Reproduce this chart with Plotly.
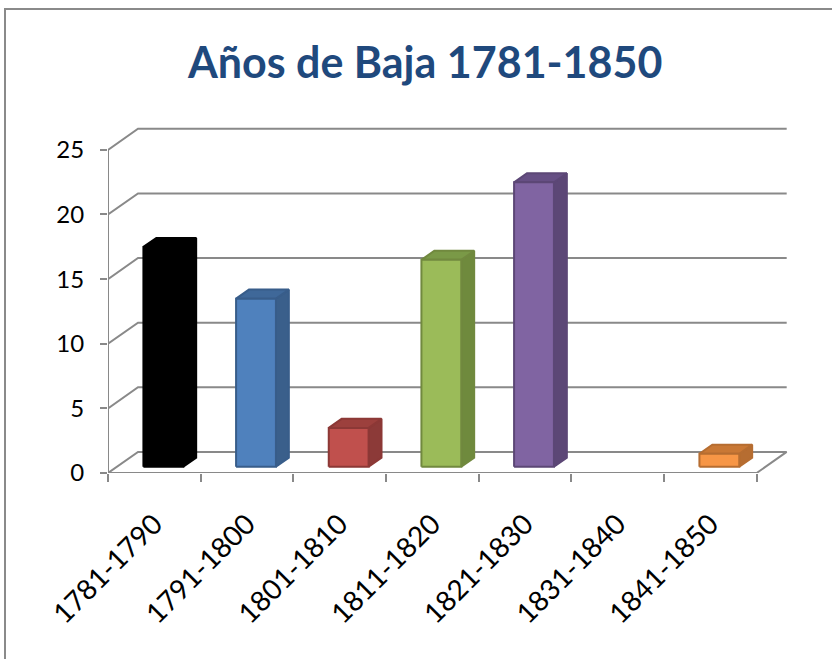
import plotly.graph_objects as go

# datos
periodos = ['1781-1790', '1791-1800', '1801-1810', '1811-1820', '1821-1830', '1831-1840', '1841-1850']
bajas = [17, 13, 3, 16, 22, 0, 1]
ticks_y = [0, 5, 10, 15, 20, 25]

# colores (frente, lado, tope, borde)
col_frente = ['#000000', '#4F81BD', '#C0504D', '#9BBB59', '#8064A2', '#4BACC6', '#F79646']
col_lado = ['#000000', '#3A5F8B', '#8C3A38', '#6F8A3D', '#5C4776', '#357D91', '#B66D31']
col_tope = ['#000000', '#3F6899', '#9C403D', '#7A9947', '#664F84', '#3C8CA3', '#C97835']
col_borde = ['#000000', '#385D8A', '#8C3836', '#71893F', '#5C4776', '#357D91', '#B66D31']

GRIS = '#898989'
DX, DY = 0.324, 1.63      # profundidad de la pared del fondo
W = 0.43                  # ancho de la barra
F, G = 0.30, 0.43         # posicion y profundidad de la barra
n = len(periodos)

fig = go.Figure()

# paredes / lineas de cuadricula
for t in ticks_y:
    fig.add_trace(go.Scatter(x=[-0.5, -0.5 + DX, n - 0.5 + DX], y=[t, t + DY, t + DY],
                             mode='lines', line=dict(color=GRIS, width=2), hoverinfo='skip'))
fig.add_trace(go.Scatter(x=[-0.5, -0.5], y=[0, ticks_y[-1]], mode='lines',
                         line=dict(color=GRIS, width=2), hoverinfo='skip'))
fig.add_trace(go.Scatter(x=[-0.5, n - 0.5, n - 0.5 + DX], y=[0, 0, DY], mode='lines',
                         line=dict(color=GRIS, width=2), hoverinfo='skip'))

# barras 3D
for i, v in enumerate(bajas):
    if v == 0:
        continue
    x0 = i - W / 2 + F * DX
    x1 = x0 + W
    b = F * DY
    top = v + b
    dx, dy = G * DX, G * DY
    fig.add_trace(go.Scatter(x=[x1, x1 + dx, x1 + dx, x1, x1], y=[b, b + dy, top + dy, top, b],
                             fill='toself', fillcolor=col_lado[i], mode='lines',
                             line=dict(color=col_borde[i], width=2), hoverinfo='skip'))
    fig.add_trace(go.Scatter(x=[x0, x0 + dx, x1 + dx, x1, x0], y=[top, top + dy, top + dy, top, top],
                             fill='toself', fillcolor=col_tope[i], mode='lines',
                             line=dict(color=col_borde[i], width=2), hoverinfo='skip'))
    fig.add_trace(go.Scatter(x=[x0, x1, x1, x0, x0], y=[b, b, top, top, b],
                             fill='toself', fillcolor=col_frente[i], mode='lines',
                             line=dict(color=col_borde[i], width=2), hoverinfo='text',
                             text=f'{periodos[i]}: {v}'))

fig.update_layout(
    width=832, height=659,
    margin=dict(l=108, r=29, t=124, b=186),
    paper_bgcolor='white', plot_bgcolor='white',
    showlegend=False,
    font=dict(family='Lato, Carlito, Calibri, sans-serif', size=24, color='black'),
    title=dict(text='<b>Años de Baja 1781-1850</b>', x=0.511, xref='container', xanchor='center',
               y=0.905, yref='container', yanchor='middle',
               font=dict(size=43, color='#1F497D', family='Lato, Carlito, Calibri, sans-serif')),
    xaxis=dict(range=[-0.5, n + 0.0], showgrid=False, zeroline=False, showline=False,
               tickmode='array', tickvals=[k - 0.5 for k in range(n + 1)],
               ticks='outside', ticklen=8, tickwidth=2, tickcolor=GRIS, showticklabels=False),
    xaxis2=dict(overlaying='x', matches='x', anchor='y', side='bottom', showgrid=False,
                zeroline=False, showline=False, tickmode='array', tickvals=list(range(n)),
                ticktext=periodos, tickangle=-45, ticks='', ticklabelstandoff=28,
                tickfont=dict(size=28)),
    yaxis=dict(range=[0, 27], showgrid=False, zeroline=False, showline=False,
               tickmode='array', tickvals=ticks_y, ticks='outside', ticklen=7, tickwidth=2,
               tickcolor=GRIS, ticklabelstandoff=11),
    shapes=[dict(type='rect', xref='paper', yref='paper',
                 x0=(5 - 108) / 695, x1=(845 - 108) / 695,
                 y0=(473 - 670) / 349, y1=(473 - 9) / 349,
                 line=dict(color='#8A8A8A', width=2), fillcolor='rgba(0,0,0,0)')],
)
fig.add_trace(go.Scatter(x=[0], y=[0], xaxis='x2', mode='markers', marker=dict(opacity=0),
                         hoverinfo='skip'))

fig.write_html('out.html', config={'displayModeBar': False},
               post_script="document.body.style.margin='0';")
